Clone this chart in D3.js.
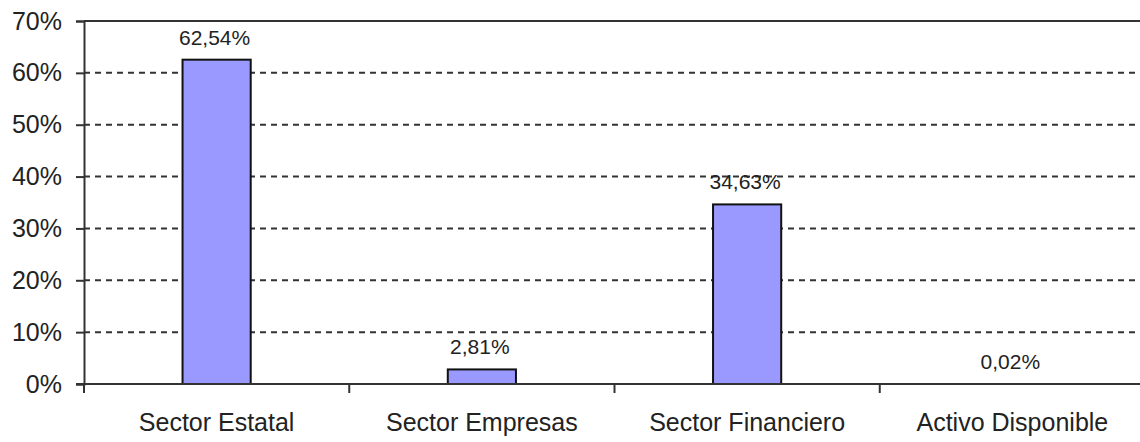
<!DOCTYPE html>
<html>
<head>
<meta charset="utf-8">
<script src="https://cdn.jsdelivr.net/npm/d3@7"></script>
<style>
    body { margin: 0; background: #fff; }
    svg text { font-family: "Liberation Sans", Arial, sans-serif; fill: #222; }
    .bar { fill: #9999ff; stroke: #111; stroke-width: 2; }
    .grid-line { stroke: #333; stroke-width: 2; stroke-dasharray: 6, 5; }
    .frame-line { stroke: #333; stroke-width: 2; }
</style>
</head>
<body>
<div id="chart"></div>
<script>
// chart data
var categories = ["Sector Estatal", "Sector Empresas", "Sector Financiero", "Activo Disponible"];
var shares = [62.54, 2.81, 34.63, 0.02];
var yTicks = [0, 10, 20, 30, 40, 50, 60, 70];

var holder = d3.select("#chart")
    .append("svg")
    .attr("width", 1140)
    .attr("height", 442);

var margin = {top: 21, left: 84},
    plotRight = 1145,
    plotBottom = 384;

// spanish style numbers: comma as decimal separator
var es = d3.formatLocale({decimal: ",", thousands: ".", grouping: [3], currency: ["", " €"]});

var x = d3.scaleBand()
    .domain(categories)
    .range([margin.left, plotRight])
    .padding(0);

var y = d3.scaleLinear()
    .domain([0, 70])
    .range([plotBottom, margin.top]);

var barWidth = x.bandwidth() * 0.257;

// dashed grid lines (the 70% line is the solid top frame)
holder.append("g")
    .selectAll("line")
    .data(yTicks.filter(function (d) { return d > 0 && d < 70; }))
    .enter().append("line")
    .attr("class", "grid-line")
    .attr("x1", margin.left)
    .attr("x2", plotRight)
    .attr("y1", function (d) { return y(d); })
    .attr("y2", function (d) { return y(d); });

// top frame line
holder.append("line")
    .attr("class", "frame-line")
    .attr("x1", margin.left)
    .attr("x2", plotRight)
    .attr("y1", y(70))
    .attr("y2", y(70));

// bars (the 0,02% one is too thin to show)
holder.append("g")
    .selectAll("rect")
    .data(shares)
    .enter().append("rect")
    .attr("class", "bar")
    .attr("x", function (d, i) { return x(categories[i]) + (x.bandwidth() - barWidth) / 2; })
    .attr("width", barWidth)
    .attr("y", function (d) { return y(d); })
    .attr("height", function (d) { return y(0) - y(d); })
    .filter(function (d) { return y(0) - y(d) < 1; })
    .remove();

// value labels above bars
holder.append("g")
    .selectAll("text")
    .data(shares)
    .enter().append("text")
    .attr("x", function (d, i) { return x(categories[i]) + x.bandwidth() / 2 - 2; })
    .attr("y", function (d) { return y(d) - 15; })
    .attr("text-anchor", "middle")
    .style("font-size", "21px")
    .text(function (d) { return es.format(".2f")(d) + "%"; });

// Y axis
var yAxis = holder.append("g")
    .attr("transform", "translate(" + margin.left + ",0)")
    .call(d3.axisLeft(y)
        .tickValues(yTicks)
        .tickSize(8)
        .tickPadding(14)
        .tickFormat(function (d) { return d + "%"; }));
yAxis.select(".domain").attr("stroke", "#333").attr("stroke-width", 2);
yAxis.selectAll(".tick line").attr("stroke", "#333").attr("stroke-width", 2);
yAxis.selectAll(".tick text").style("font-size", "25px").attr("fill", "#222");

// X axis line
holder.append("line")
    .attr("class", "frame-line")
    .attr("x1", margin.left - 8)
    .attr("x2", plotRight)
    .attr("y1", y(0))
    .attr("y2", y(0));

// category divider ticks
holder.append("g")
    .selectAll("line")
    .data(categories)
    .enter().append("line")
    .attr("class", "frame-line")
    .attr("x1", function (d) { return x(d); })
    .attr("x2", function (d) { return x(d); })
    .attr("y1", y(0))
    .attr("y2", y(0) + 9);

// category labels
holder.append("g")
    .selectAll("text")
    .data(categories)
    .enter().append("text")
    .attr("x", function (d) { return x(d) + x.bandwidth() / 2; })
    .attr("y", 431)
    .attr("text-anchor", "middle")
    .style("font-size", "25px")
    .text(function (d) { return d; });
</script>
</body>
</html>
